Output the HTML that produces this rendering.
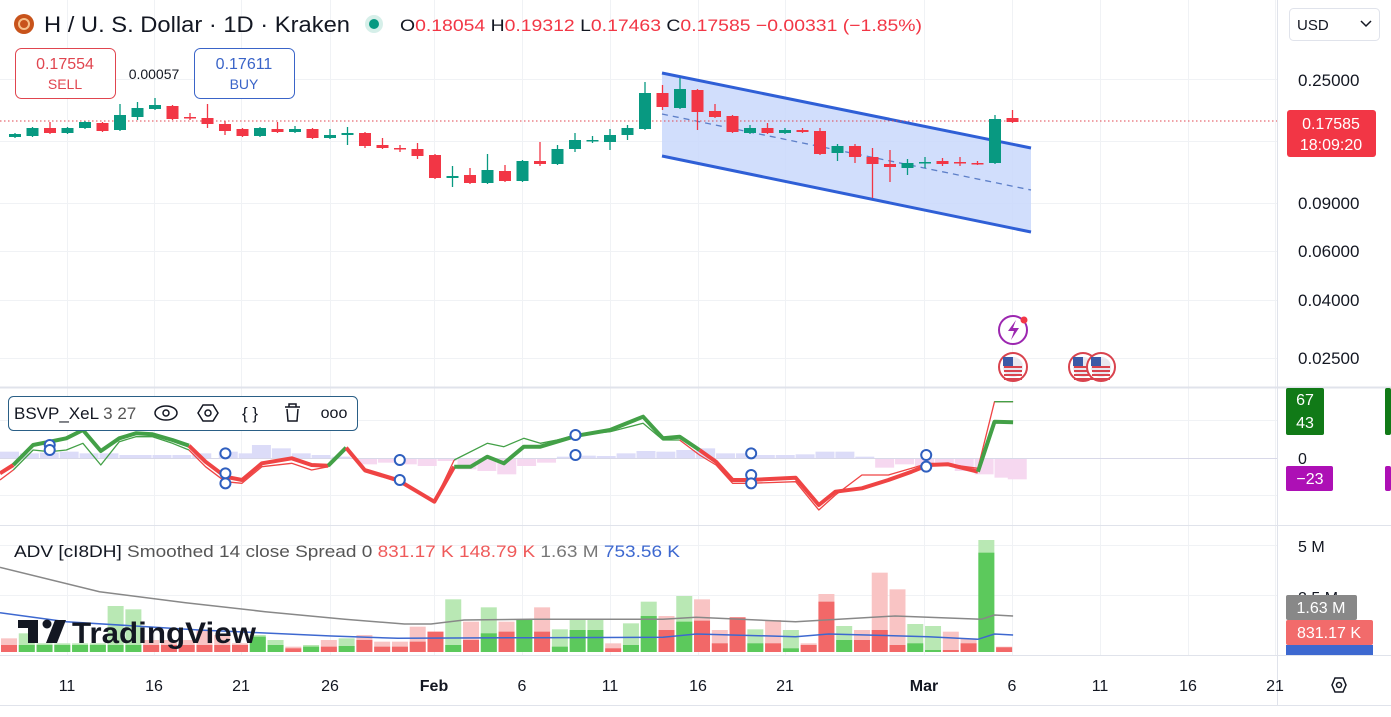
<!DOCTYPE html>
<html><head><meta charset="utf-8"><style>
html,body{margin:0;padding:0;background:#fff;width:1391px;height:717px;overflow:hidden;font-family:"Liberation Sans",sans-serif;}
svg{position:absolute;left:0;top:0}
</style></head><body>
<svg id="s" width="1391" height="717" xmlns="http://www.w3.org/2000/svg" font-family="Liberation Sans, sans-serif">
<g id="grid" stroke="#f0f2f5" stroke-width="1"></g>
<polygon points="662,73 1031,148 1031,232 662,156" fill="#c9d8fb" opacity="0.85"/>
<line x1="662" y1="73" x2="1031" y2="148" stroke="#2f5fd6" stroke-width="3"/>
<line x1="662" y1="156" x2="1031" y2="232" stroke="#2f5fd6" stroke-width="3"/>
<line x1="662" y1="114" x2="1031" y2="190" stroke="#5d7fc8" stroke-width="1.3" stroke-dasharray="6,5"/>
<line x1="0" y1="121" x2="1280" y2="121" stroke="#e0454f" stroke-width="1" stroke-dasharray="1.5,2.5"/>
<g id="candles"></g>
<g id="ind"></g>
<g id="vol"></g>
<line x1="0" y1="387.5" x2="1391" y2="387.5" stroke="#e0e3eb" stroke-width="2"/>
<line x1="0" y1="525.5" x2="1391" y2="525.5" stroke="#e0e3eb" stroke-width="1"/>
<line x1="0" y1="655.5" x2="1391" y2="655.5" stroke="#e0e3eb" stroke-width="1"/>
<line x1="1277.5" y1="0" x2="1277.5" y2="705" stroke="#e0e3eb" stroke-width="1"/>
<line x1="0" y1="705.5" x2="1391" y2="705.5" stroke="#e0e3eb" stroke-width="1"/>
<circle cx="24" cy="24" r="10" fill="#c8531b"/><circle cx="24" cy="24" r="5" fill="none" stroke="#f6c08a" stroke-width="2"/>
<text x="44" y="32" font-size="22" fill="#131722" textLength="306" lengthAdjust="spacingAndGlyphs">H / U. S. Dollar · 1D · Kraken</text>
<circle cx="374" cy="24" r="9" fill="#d6efe9"/><circle cx="374" cy="24" r="5" fill="#089981"/>
<text x="400" y="31" font-size="17" fill="#131722" textLength="522" lengthAdjust="spacingAndGlyphs">O<tspan fill="#f23645">0.18054</tspan> H<tspan fill="#f23645">0.19312</tspan> L<tspan fill="#f23645">0.17463</tspan> C<tspan fill="#f23645">0.17585</tspan> <tspan fill="#f23645">−0.00331 (−1.85%)</tspan></text>
<rect x="15.5" y="48.5" width="100" height="50" rx="6" fill="#fff" stroke="#e0454f"/>
<text x="65" y="69" font-size="16" fill="#e0454f" text-anchor="middle">0.17554</text>
<text x="65" y="89" font-size="14" fill="#e0454f" text-anchor="middle">SELL</text>
<text x="154" y="79" font-size="14" fill="#131722" text-anchor="middle">0.00057</text>
<rect x="194.5" y="48.5" width="100" height="50" rx="6" fill="#fff" stroke="#3a64c8"/>
<text x="244" y="69" font-size="16" fill="#3a64c8" text-anchor="middle">0.17611</text>
<text x="244" y="89" font-size="14" fill="#3a64c8" text-anchor="middle">BUY</text>
<rect x="1289.5" y="8.5" width="90" height="32" rx="4" fill="#fff" stroke="#e0e3eb"/>
<text x="1297" y="30" font-size="15" fill="#131722">USD</text>
<path d="M1361 21 l5 5 l5 -5" fill="none" stroke="#131722" stroke-width="1.5"/>
<g font-size="17" fill="#131722">
<text x="1298" y="86">0.25000</text>
<text x="1298" y="209">0.09000</text>
<text x="1298" y="257">0.06000</text>
<text x="1298" y="306">0.04000</text>
<text x="1298" y="364">0.02500</text>
</g>
<rect x="1287" y="110" width="89" height="47" rx="3" fill="#f23645"/>
<text x="1331" y="129" font-size="16" fill="#fff" text-anchor="middle">0.17585</text>
<text x="1331" y="150" font-size="16" fill="#fff" text-anchor="middle">18:09:20</text>
<circle cx="1013" cy="330" r="14" fill="#fff" stroke="#9c27b0" stroke-width="2"/>
<path d="M1016 320 l-8 11 h6 l-3 9 l8 -12 h-6z" fill="#9c27b0"/>
<circle cx="1024" cy="320" r="3.5" fill="#f23645"/>
<g id="flags"></g>
<rect x="8.5" y="396.5" width="349" height="34" rx="5" fill="#fff" stroke="#2a5f86"/>
<text x="14" y="419" font-size="17" fill="#131722">BSVP_XeL <tspan fill="#555">3 27</tspan></text>
<ellipse cx="166" cy="413" rx="11" ry="7" fill="none" stroke="#131722" stroke-width="1.5"/><circle cx="166" cy="413" r="3" fill="none" stroke="#131722" stroke-width="1.5"/>
<polygon points="203,405 213,405 218,413 213,421 203,421 198,413" fill="none" stroke="#131722" stroke-width="1.5"/><circle cx="208" cy="413" r="3" fill="none" stroke="#131722" stroke-width="1.5"/>
<text x="250" y="419" font-size="17" fill="#131722" text-anchor="middle">{ }</text>
<path d="M285 407 h15 M289 407 v-3 h7 v3 M287 409 l1 12 h9 l1 -12" fill="none" stroke="#131722" stroke-width="1.5"/>
<text x="334" y="418" font-size="16" fill="#131722" text-anchor="middle">ooo</text>
<rect x="1286" y="388" width="38" height="47" rx="2" fill="#117a17"/>
<text x="1305" y="405" font-size="16" fill="#fff" text-anchor="middle">67</text>
<text x="1305" y="428" font-size="16" fill="#fff" text-anchor="middle">43</text>
<text x="1298" y="464" font-size="16" fill="#131722">0</text>
<rect x="1286" y="466" width="47" height="25" rx="2" fill="#ad10b5"/>
<text x="1310" y="484" font-size="16" fill="#fff" text-anchor="middle">−23</text>
<rect x="1385" y="388" width="6" height="47" rx="2" fill="#117a17"/>
<rect x="1385" y="466" width="6" height="25" rx="2" fill="#ad10b5"/>
<text x="14" y="557" font-size="17" fill="#131722" textLength="666" lengthAdjust="spacingAndGlyphs">ADV [cI8DH] <tspan fill="#555">Smoothed 14 close Spread 0</tspan> <tspan fill="#ef5a5a">831.17 K</tspan> <tspan fill="#ef5a5a">148.79 K</tspan> <tspan fill="#777">1.63 M</tspan> <tspan fill="#3d68d0">753.56 K</tspan></text>
<text x="1298" y="552" font-size="16" fill="#131722">5 M</text>
<text x="1298" y="603" font-size="16" fill="#131722">2.5 M</text>
<rect x="1286" y="595" width="71" height="25" rx="2" fill="#888"/>
<text x="1321" y="613" font-size="16" fill="#fff" text-anchor="middle">1.63 M</text>
<rect x="1286" y="620" width="87" height="25" rx="2" fill="#f26b6b"/>
<text x="1329" y="638" font-size="16" fill="#fff" text-anchor="middle">831.17 K</text>
<rect x="1286" y="645" width="87" height="10" fill="#3d68d0"/>
<g fill="#131722"><rect x="18" y="620" width="20" height="8"/><rect x="28" y="620" width="10" height="23"/><circle cx="47" cy="624" r="4.5"/><polygon points="55,620 66,620 57,643 46,643"/></g>
<text x="72" y="643" font-size="30" font-weight="bold" fill="#131722" textLength="184" lengthAdjust="spacingAndGlyphs">TradingView</text>
<g id="time" font-size="16" fill="#131722" text-anchor="middle"></g>
<polygon points="1332,685 1335,678 1343,678 1346,685 1343,692 1335,692" fill="none" stroke="#131722" stroke-width="1.5"/><circle cx="1339" cy="685" r="2.5" fill="none" stroke="#131722" stroke-width="1.5"/>
</svg>
<script>
var NS="http://www.w3.org/2000/svg";
function el(p,t,a,txt){var e=document.createElementNS(NS,t);for(var k in a)e.setAttribute(k,a[k]);if(txt!==undefined)e.textContent=txt;document.getElementById(p).appendChild(e);return e;}
var vx=[67,154,241,330,434,522,610,698,785,924,1012,1100,1188,1275];
vx.forEach(function(x){el("grid","line",{x1:x+.5,y1:0,x2:x+.5,y2:655});});
[79,141,203,251,300,358,420,458,495,545,595].forEach(function(y){el("grid","line",{x1:0,y1:y+.5,x2:1277,y2:y+.5});});
var tl=[["11",67],["16",154],["21",241],["26",330],["Feb",434],["6",522],["11",610],["16",698],["21",785],["Mar",924],["6",1012],["11",1100],["16",1188],["21",1275]];
tl.forEach(function(t){var e=el("time","text",{x:t[1],y:691},t[0]);if(t[0].length==3)e.setAttribute("font-weight","bold");});
var C=[["g",134,137,133,138],["g",128,136,127,137],["r",128,133,122,134],["g",128,133,127,134],["g",122,128,121,129],["r",123,131,122,132],["g",115,130,104,131],["g",108,117,102,120],["g",105,109,98,110],["r",106,119,105,120],["r",117,117.5,113,120],["r",118,124,104,128],["r",124,131,121,135],["r",129,136,128,137],["g",128,136,127,137],["r",129,132,122,133],["g",129,132,126,133],["r",129,138,128,139],["g",135,138,129,139],["g",133,135,127,145],["r",133,146,132,148],["r",145,148,138,149],["r",148,148.5,145,152],["r",149,156,143,159],["r",155,178,154,179],["g",176,178,166,187],["r",175,183,168,184],["g",170,183,154,184],["r",171,181,165,182],["g",161,181,160,182],["r",161,164,142,166],["g",149,164,145,165],["g",140,149,133,152],["g",140,140.5,136,143],["g",135,142,129,150],["g",128,135,125,140],["g",93,129,82,130],["r",93,107,85,110],["g",89,108,78,109],["r",90,112,89,130],["r",111,117,104,118],["r",116,132,115,133],["g",128,133,125,134],["r",128,133,123,134],["g",130,133,128,134],["r",130,132,128,133],["r",131,154,128,155],["g",146,153,144,161],["r",146,157,144,163],["r",157,164,148,198],["r",164,167,150,182],["g",163,168,159,175],["g",162,162.5,157,168],["r",161,164,158,166],["r",162,163,157,166],["r",163,164,161,165],["g",119,163,115,164],["r",118,122,110,123]];
C.forEach(function(c,i){var x=15+17.5*i;var col=c[0]=="g"?"#089981":"#f23645";
el("candles","line",{x1:x,y1:c[3],x2:x,y2:c[4],stroke:col,"stroke-width":1.3});
var h=Math.max(c[2]-c[1],1.5);el("candles","rect",{x:x-6,y:c[1],width:12,height:h,fill:col});});
[[1013,367],[1083,367],[1101,367]].forEach(function(f){el("flags","circle",{cx:f[0],cy:f[1],r:14,fill:"#fff",stroke:"#d9434e","stroke-width":2});
el("flags","circle",{cx:f[0],cy:f[1],r:10,fill:"#e8e8ef"});el("flags","rect",{x:f[0]-10,y:f[1]-10,width:10,height:9,fill:"#3c5aa6"});
for(var k=0;k<4;k++)el("flags","rect",{x:f[0]-9,y:f[1]-1+k*4,width:18,height:2,fill:"#d9434e"});});
function P(arr){return arr.map(function(p){return (p[0]*0.663).toFixed(1)+","+(p[1]/3+385).toFixed(1);}).join(" ");}
var hb=[[0,200,1],[30,205,1],[60,203,1],[90,200,1],[120,205,1],[150,205,1],[180,210,1],[200,210,1],[230,210,1],[260,210,1],[290,205,1],[330,200,1],[360,205,1],[380,180,1],[410,190,1],[440,205,2],[470,210,2],[500,215,2],[540,235,-1],[570,230,-1],[600,235,-1],[630,240,-1],[660,225,-1],[690,250,-2],[720,255,-2],[750,265,-2],[780,240,-1],[810,230,-1],[840,215,1],[870,212,1],[900,213,1],[930,205,1],[960,198,1],[990,200,1],[1020,195,1],[1050,190,2],[1080,205,2],[1110,205,2],[1140,210,2],[1170,210,2],[1200,208,2],[1230,200,1],[1260,200,2],[1290,215,2],[1320,245,-2],[1350,235,-2],[1380,240,-2],[1410,235,-2],[1440,255,-2],[1470,265,-2],[1500,275,-2],[1520,280,-2]];
hb.forEach(function(b){var x=b[0]*0.663,y=b[1]/3+385,z=458;var col=b[2]>0?"#dcdcf8":"#f6d8f0";
el("ind","rect",{x:x,y:Math.min(y,z),width:19,height:Math.abs(y-z)+1,fill:col});});
el("ind","line",{x1:0,y1:458.5,x2:1277,y2:458.5,stroke:"#d8d8e8","stroke-width":1});
var L=[[0,265],[20,240],[50,180],[75,170],[100,160],[125,135],[152,198],[180,160],[205,145],[230,148],[260,165],[285,182],[310,230],[340,275],[365,285],[395,235],[440,220],[470,240],[495,242],[522,188],[550,255],[600,285],[655,350],[685,245],[710,245],[735,215],[760,235],[790,185],[815,185],[840,170],[870,152],[920,135],[970,95],[1000,160],[1025,155],[1055,195],[1080,230],[1105,285],[1130,285],[1200,278],[1235,360],[1260,320],[1300,310],[1340,285],[1375,260],[1400,240],[1430,238],[1475,260],[1500,110],[1528,112]];
var T=[[0,285],[20,255],[50,195],[75,200],[100,195],[125,175],[152,240],[180,170],[205,155],[230,155],[260,175],[285,195],[310,245],[340,290],[365,295],[395,245],[440,235],[470,255],[495,245],[522,190],[550,260],[600,290],[655,350],[685,225],[735,175],[760,185],[790,160],[815,175],[840,165],[870,150],[920,140],[970,115],[1000,165],[1025,165],[1055,210],[1080,240],[1105,295],[1130,295],[1200,290],[1235,375],[1260,330],[1300,270],[1340,270],[1375,250],[1400,235],[1430,238],[1475,250],[1500,50],[1528,50]];
function seg(arr,i0,i1,col,w){el("ind","polyline",{points:P(arr.slice(i0,i1+1)),fill:"none",stroke:col,"stroke-width":w,"stroke-linejoin":"round"});}
var G="#43a047",R="#ef4444";
[[T,0,1,R],[T,1,11,G],[T,11,18,R],[T,18,19,G],[T,19,23,R],[T,23,33,G],[T,33,49,R],[T,47,49,G]].forEach(function(s){seg(s[0],s[1],s[2],s[3],1.3);});
[[L,0,1,R],[L,1,11,G],[L,11,18,R],[L,18,19,G],[L,19,23,R],[L,23,35,G],[L,35,47,R],[L,47,49,G]].forEach(function(s){seg(s[0],s[1],s[2],s[3],4);});
[[75,180],[75,195],[340,205],[340,265],[340,295],[603,225],[603,285],[868,150],[868,210],[1133,205],[1133,270],[1133,295],[1397,210],[1397,245]].forEach(function(o){
el("ind","circle",{cx:o[0]*0.663,cy:o[1]/3+385,r:5,fill:"#fff",stroke:"#2f5fbf","stroke-width":2});});
var V=[[325,345,"r"],[310,345,"g"],[340,345,"g"],[340,345,"g"],[340,345,"g"],[340,345,"g"],[228,345,"g"],[238,345,"g"],[330,345,"r"],[330,345,"r"],[330,345,"r"],[300,345,"r"],[315,345,"r"],[340,345,"r"],[315,320,"g"],[330,345,"g"],[350,355,"r"],[345,350,"g"],[330,350,"r"],[325,348,"g"],[315,330,"r"],[335,350,"r"],[335,350,"r"],[290,335,"r"],[305,305,"r"],[208,345,"g"],[275,330,"r"],[232,310,"g"],[275,305,"r"],[270,270,"g"],[232,305,"r"],[298,350,"g"],[268,300,"g"],[270,300,"g"],[340,355,"r"],[280,345,"g"],[215,258,"g"],[258,300,"r"],[198,275,"g"],[208,272,"r"],[300,340,"r"],[262,262,"r"],[298,340,"g"],[270,340,"r"],[300,355,"g"],[340,345,"r"],[192,215,"r"],[288,330,"g"],[300,330,"r"],[128,300,"r"],[178,345,"r"],[282,340,"g"],[288,360,"g"],[305,360,"r"],[325,340,"r"],[30,68,"g"],[350,352,"r"]];
V.forEach(function(v,i){var x=1+17.77*i,lt=v[0]/3+530,dt=v[1]/3+530,b=652;
var lc=v[2]=="g"?"#b9e8b4":"#f9c4c4",dc=v[2]=="g"?"#5cc95c":"#f26868";
el("vol","rect",{x:x,y:lt,width:16,height:b-lt,fill:lc});el("vol","rect",{x:x,y:dt,width:16,height:Math.max(b-dt,0),fill:dc});});
function PV(arr){return arr.map(function(p){return (p[0]*0.663).toFixed(1)+","+(p[1]/3+530).toFixed(1);}).join(" ");}
el("vol","polyline",{points:PV([[0,112],[150,185],[280,218],[400,245],[520,268],[610,282],[650,282],[700,270],[800,268],[880,268],[1000,268],[1050,262],[1200,275],[1350,258],[1480,268],[1500,255],[1528,258]]),fill:"none",stroke:"#888","stroke-width":1.5});
el("vol","polyline",{points:PV([[0,248],[100,275],[300,300],[500,318],[600,325],[800,323],[1000,322],[1050,312],[1200,320],[1250,312],[1400,320],[1475,328],[1500,312],[1528,315]]),fill:"none",stroke:"#3d68d0","stroke-width":1.5});
</script>
</body></html>
